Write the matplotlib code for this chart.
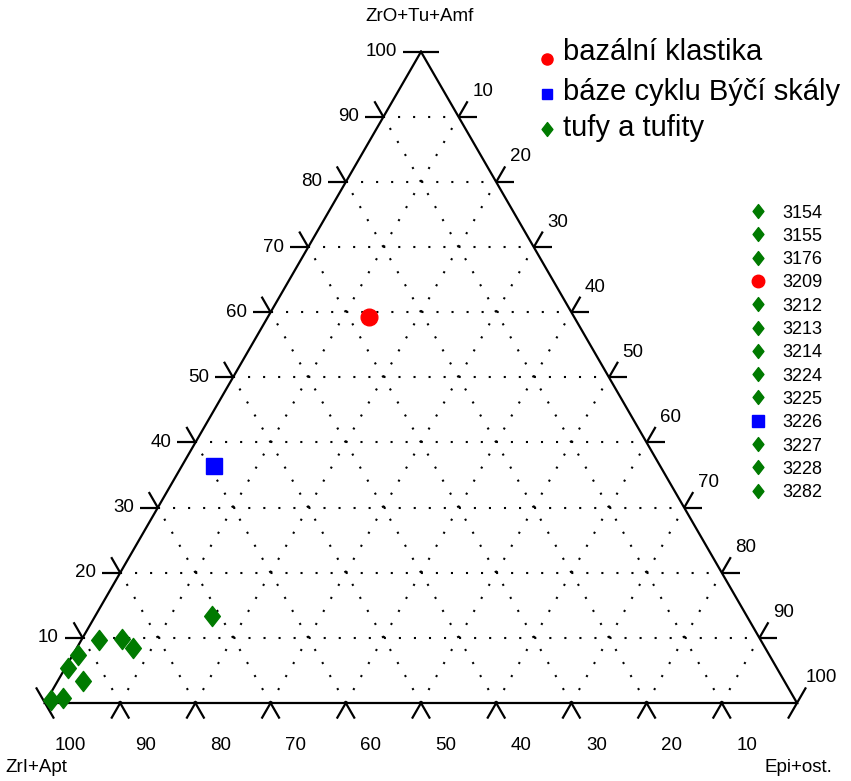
import numpy as np
import matplotlib
matplotlib.use("Agg")
import matplotlib.pyplot as plt
from matplotlib.path import Path

plt.rcParams['font.family'] = ['Liberation Sans', 'DejaVu Sans']

# ---------------- data (percent) ----------------
axis_top = "ZrO+Tu+Amf"
axis_left = "ZrI+Apt"
axis_right = "Epi+ost."

group_names = ["bazální klastika", "báze cyklu Býčí skály", "tufy a tufity"]
group_colors = ["#ff0000", "#0000ff", "#007a00"]

# ZrO+Tu+Amf (a), Epi+ost. (b); ZrI+Apt = 100 - a - b
red_a = [59.3]
red_b = [13.5]
blue_a = [36.4]
blue_b = [4.3]
green_a = [13.4, 9.7, 9.8, 8.5, 7.3, 5.4, 3.4, 0.5, 0.8]
green_b = [15.5, 2.3, 5.4, 7.5, 0.8, 0.4, 3.3, 0.5, 2.0]

sample_ids = ["3154", "3155", "3176", "3209", "3212", "3213", "3214",
              "3224", "3225", "3226", "3227", "3228", "3282"]
sample_group = [2, 2, 2, 0, 2, 2, 2, 2, 2, 1, 2, 2, 2]

tick_values = [0, 10, 20, 30, 40, 50, 60, 70, 80, 90, 100]

# ---------------- figure ----------------
W, H = 851, 781
fig = plt.figure(figsize=(W / 100, H / 100), dpi=100)
ax = fig.add_axes([0, 0, 1, 1])
S = 752.0  # pixels per unit side
X0, Y0 = 45.0, 703.0
ax.set_xlim(-X0 / S, (W - X0) / S)
ax.set_ylim((Y0 - H) / S, Y0 / S)
ax.axis("off")
R3 = np.sqrt(3) / 2


def tern(a, b):
    a = np.asarray(a, float) / 100.0
    b = np.asarray(b, float) / 100.0
    return b + a / 2, a * R3


def px(d):
    return d / S


# grid lines
for v in range(10, 100, 10):
    segs = [((v, 0), (v, 100 - v)),            # constant a
            ((0, v), (100 - v, v)),            # constant b
            ((0, 100 - v), (100 - v, 0))]      # constant c
    for (a1, b1), (a2, b2) in segs:
        x, y = tern([a1, a2], [b1, b2])
        ax.plot(x, y, color="black", lw=1.5, linestyle=(0, (1, 6.22)), zorder=1)

# triangle edges
tx, ty = tern([100, 0, 0, 100], [0, 0, 100, 0])
ax.plot(tx, ty, color="black", lw=1.6, zorder=3, solid_joinstyle="miter")

# ticks
L = px(18)


def seg(x, y, ang):
    r = np.deg2rad(ang)
    ax.plot([x, x + L * np.cos(r)], [y, y + L * np.sin(r)], color="black",
            lw=1.6, zorder=3, solid_capstyle="butt")


fs_tick = 13.5
for v in tick_values:
    # left axis: a = v, b = 0
    x, y = tern(v, 0)
    if v != 0:
        seg(x, y, 180)
    if v != 100:
        seg(x, y, 120)
    if v != 0:
        ax.text(x - px(24), y, str(v), ha="right", va="center", fontsize=fs_tick)
    # right axis: b = v, c = 0
    x, y = tern(100 - v, v)
    if v != 100:
        seg(x, y, 0)
    if v != 0:
        seg(x, y, 60)
    if v != 0:
        ax.text(x + px(24), y + px(25), str(v), ha="center", va="center", fontsize=fs_tick)
    # bottom axis: c = v, a = 0
    x, y = tern(0, 100 - v)
    if v != 100:
        seg(x, y, 240)
    if v != 0:
        seg(x, y, 300)
    if v != 0:
        ax.text(x + px(25), y - px(42), str(v), ha="center", va="center", fontsize=fs_tick)

# axis titles
ax.text(px(420 - X0), px(Y0 - 16), axis_top, ha="center", va="center", fontsize=fs_tick)
ax.text(px(5 - X0), px(Y0 - 768), axis_left, ha="left", va="center", fontsize=fs_tick)
ax.text(px(832 - X0), px(Y0 - 768), axis_right, ha="right", va="center", fontsize=fs_tick)

# diamond marker
dia = Path([(0, 1), (0.78, 0), (0, -1), (-0.78, 0), (0, 1)],
           [Path.MOVETO, Path.LINETO, Path.LINETO, Path.LINETO, Path.CLOSEPOLY])

# data points
x, y = tern(red_a, red_b)
ax.plot(x, y, "o", color=group_colors[0], ms=12, mec=group_colors[0], zorder=5)
x, y = tern(blue_a, blue_b)
ax.plot(x, y, "s", color=group_colors[1], ms=11.5, mec=group_colors[1], zorder=5)
x, y = tern(green_a, green_b)
ax.plot(x, y, linestyle="none", marker=dia, color=group_colors[2], ms=14.5,
        mec=group_colors[2], zorder=5)

# top legend (manual)
def fp(xp, yp):
    return px(xp - X0), px(Y0 - yp)


leg_rows = [52, 92, 128]
leg_marker_y = [59, 94, 129]
leg_markers = ["o", "s", dia]
leg_ms = [8, 7.5, 10]
for i in range(3):
    mx, my = fp(547, leg_marker_y[i])
    ax.plot([mx], [my], linestyle="none", marker=leg_markers[i], color=group_colors[i],
            mec=group_colors[i], ms=leg_ms[i], zorder=5)
    tx_, ty_ = fp(563, leg_rows[i])
    ax.text(tx_, ty_, group_names[i], ha="left", va="center", fontsize=21)

# sample list
list_ms = [9, 8.5, 10]
for i, (sid, g) in enumerate(zip(sample_ids, sample_group)):
    yy = 213 + i * 23.3
    mx, my = fp(758, yy - 2)
    ax.plot([mx], [my], linestyle="none", marker=leg_markers[g], color=group_colors[g],
            mec=group_colors[g], ms=list_ms[g], zorder=5)
    tx_, ty_ = fp(782, yy)
    ax.text(tx_, ty_, sid, ha="left", va="center", fontsize=13)

fig.savefig("out.png", dpi=100)
